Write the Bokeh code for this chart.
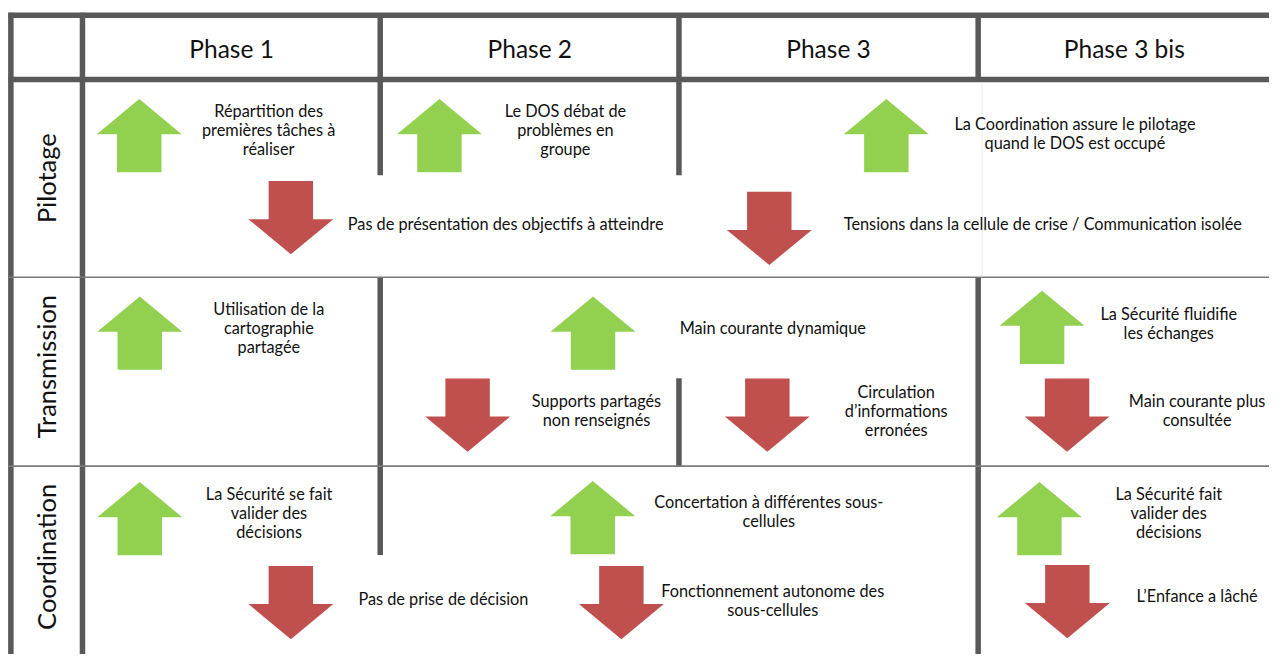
import numpy as np
from bokeh.plotting import figure
from bokeh.models import Range1d, ColumnDataSource
from bokeh.core.properties import value
from bokeh.embed import file_html
from bokeh.resources import INLINE

# ---------------- data ----------------
phases = ["Phase 1", "Phase 2", "Phase 3", "Phase 3 bis"]
rows = ["Pilotage", "Transmission", "Coordination"]

item_text = [
    "Répartition des\npremières tâches à\nréaliser",
    "Le DOS débat de\nproblèmes en\ngroupe",
    "La Coordination assure le pilotage\nquand le DOS est occupé",
    "Pas de présentation des objectifs à atteindre",
    "Tensions dans la cellule de crise / Communication isolée",
    "Utilisation de la\ncartographie\npartagée",
    "Main courante dynamique",
    "Supports partagés\nnon renseignés",
    "Circulation\nd’informations\nerronées",
    "La Sécurité fluidifie\nles échanges",
    "Main courante plus\nconsultée",
    "La Sécurité se fait\nvalider des\ndécisions",
    "Concertation à différentes sous-\ncellules",
    "Pas de prise de décision",
    "Fonctionnement autonome des\nsous-cellules",
    "La Sécurité fait\nvalider des\ndécisions",
    "L’Enfance a lâché",
]
item_dir = ["up", "up", "up", "down", "down",
            "up", "up", "down", "down", "up", "down",
            "up", "up", "down", "down", "up", "down"]
item_row = ["Pilotage"] * 5 + ["Transmission"] * 6 + ["Coordination"] * 6

# ---------------- layout (reference pixel space) ----------------
phase_x = [234, 536, 838.5, 1138]
header_y = 49.5
row_y = [182, 375, 570]
row_label_x = 46.5

arrow_cx = [140.5, 444.5, 897, 294, 778.5,
            141, 600, 473, 776.5, 1054.7, 1080,
            141, 599.7, 294, 628.7, 1052, 1080.3]
arrow_top = [101, 101, 101, 185, 196,
             303.3, 303.3, 387.3, 387.3, 297.3, 387.3,
             493.3, 492.3, 579.3, 579.3, 493.3, 578.3]
text_x = [271.5, 572, 1088, 511.5, 1055.5,
          271.7, 782, 603.5, 907, 1183, 1211.7,
          272, 778, 448.5, 782, 1183, 1211.7]
text_y = [131.7, 131.7, 136.2, 228, 228,
          335, 335, 419.7, 420, 330.3, 419.5,
          524.3, 523, 613, 613.8, 524.3, 609.3]

AW, AS, AH, AHH = 86, 45, 75, 36
GREEN, RED = "#92D050", "#C0504D"
GRID = "#595959"

def arrow(cx, t, d):
    if d == "up":
        xs = [cx, cx + AW / 2, cx + AS / 2, cx + AS / 2, cx - AS / 2, cx - AS / 2, cx - AW / 2]
        ys = [t, t + AHH, t + AHH, t + AH, t + AH, t + AHH, t + AHH]
    else:
        b = t + AH - AHH
        xs = [cx - AS / 2, cx + AS / 2, cx + AS / 2, cx + AW / 2, cx, cx - AW / 2, cx - AS / 2]
        ys = [t, t, b, b, t + AH, b, b]
    return xs, ys

p = figure(width=1269, height=654, output_backend="svg", toolbar_location=None,
           x_range=Range1d(0, 1285), y_range=Range1d(670, 0), min_border=0)
p.axis.visible = False
p.grid.visible = False
p.outline_line_color = None
p.background_fill_color = "white"
p.border_fill_color = "white"

# grid lines
thick = dict(
    x0=[8, 8, 10.5, 83, 384.5, 384.5, 687, 687, 990, 990],
    y0=[15, 81, 12.5, 12.5, 15, 284, 15, 387, 15, 284],
    x1=[1285, 1285, 10.5, 83, 384.5, 384.5, 687, 687, 990, 990],
    y1=[15, 81, 670, 670, 179, 568, 179, 477, 81, 670],
)
p.segment(x0="x0", y0="y0", x1="x1", y1="y1", source=ColumnDataSource(thick),
          line_color=GRID, line_width=5.5)
p.segment(x0=[8, 8], y0=[283.5, 477], x1=[1285, 1285], y1=[283.5, 477],
          line_color="#7a7a7a", line_width=1.6)
p.segment(x0=[994], y0=[84], x1=[994], y1=[283], line_color="#eeeeee", line_width=1)

# arrows
xs_l, ys_l, cols = [], [], []
for cx, t, d in zip(arrow_cx, arrow_top, item_dir):
    xs, ys = arrow(cx, t, d)
    xs_l.append(xs)
    ys_l.append(ys)
    cols.append(GREEN if d == "up" else RED)
p.patches(xs="xs", ys="ys", fill_color="c", line_color=None,
          source=ColumnDataSource(dict(xs=xs_l, ys=ys_l, c=cols)))

# texts
p.text(x=text_x, y=text_y, text=item_text, text_font=value("Lato"),
       text_font_size="16.3px", text_align="center", text_baseline="middle",
       text_color="#111111", text_line_height=1.0)
p.text(x=phase_x, y=[header_y] * 4, text=phases, text_font=value("Lato"),
       text_font_size="24.5px", text_align="center", text_baseline="middle",
       text_color="#111111")
p.text(x=[row_label_x] * 3, y=row_y, text=rows, text_font=value("Lato"),
       text_font_size="25.5px", text_align="center", text_baseline="middle",
       text_color="#111111", angle=np.pi / 2)

open("out.html", "w").write(file_html(p, INLINE))
